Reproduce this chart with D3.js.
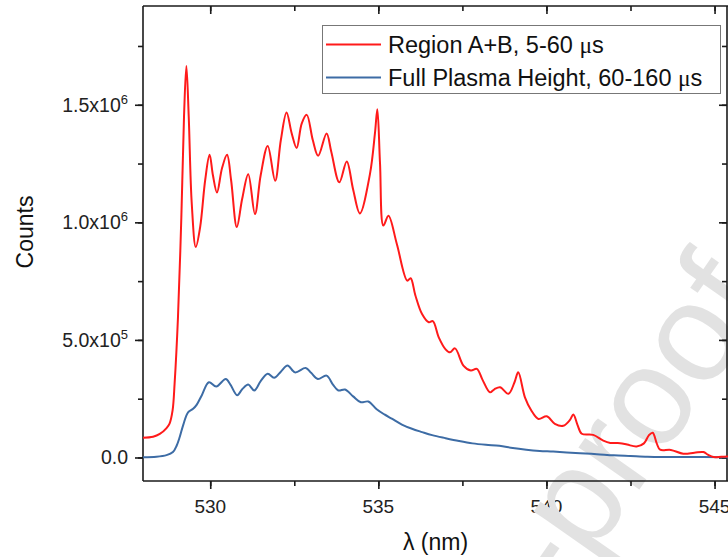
<!DOCTYPE html>
<html>
<head>
<meta charset="utf-8">
<script src="https://cdn.jsdelivr.net/npm/d3@7"></script>
<style>
  html, body { margin: 0; padding: 0; background: #fff; }
  svg { display: block; font-family: "Liberation Sans", Arial, sans-serif; }
</style>
</head>
<body>
<svg id="chart" width="728" height="557"></svg>
<script>
// Emission spectra: wavelength (nm) and counts (thousands)
const redLambda = [528.0, 528.3, 528.5, 528.7, 528.79, 528.88, 528.94, 529.04, 529.14, 529.22, 529.29, 529.36, 529.45, 529.57, 529.7, 529.85, 529.98, 530.08, 530.2, 530.35, 530.5, 530.62, 530.79, 530.95, 531.13, 531.33, 531.5, 531.71, 531.93, 532.1, 532.27, 532.42, 532.57, 532.72, 532.87, 533.05, 533.21, 533.46, 533.6, 533.84, 534.06, 534.25, 534.45, 534.75, 534.9, 534.97, 535.05, 535.15, 535.3, 535.55, 535.86, 535.96, 536.1, 536.3, 536.5, 536.62, 536.8, 537.0, 537.13, 537.28, 537.53, 537.75, 537.93, 538.1, 538.32, 538.45, 538.62, 538.87, 539.05, 539.16, 539.36, 539.55, 539.76, 540.01, 540.25, 540.5, 540.7, 540.8, 540.92, 541.05, 541.39, 541.69, 541.9, 542.19, 542.4, 542.68, 542.9, 543.05, 543.16, 543.28, 543.38, 543.7, 544.07, 544.4, 544.67, 544.8, 544.97, 545.2, 545.4];
const redCounts = [84, 88, 100, 125, 144, 200, 314, 595, 1020, 1450, 1665, 1450, 1080, 895, 980, 1180, 1287, 1200, 1127, 1230, 1287, 1180, 980, 1100, 1205, 1035, 1200, 1325, 1177, 1350, 1467, 1380, 1316, 1420, 1457, 1350, 1283, 1378, 1300, 1170, 1259, 1140, 1038, 1205, 1380, 1481, 1250, 986, 1028, 908, 752, 762, 690, 610, 575, 580, 510, 460, 447, 464, 391, 370, 377, 330, 277, 290, 299, 271, 320, 362, 256, 200, 164, 175, 143, 135, 160, 183, 140, 101, 96, 72, 62, 61, 55, 47, 60, 95, 105, 60, 33, 32, 16, 20, 23, 12, 2, 3, 4];

const blueLambda = [528.0, 528.4, 528.7, 528.89, 529.0, 529.09, 529.2, 529.34, 529.49, 529.6, 529.75, 529.96, 530.18, 530.46, 530.6, 530.8, 530.95, 531.13, 531.31, 531.5, 531.71, 531.9, 532.1, 532.3, 532.52, 532.84, 533.0, 533.2, 533.46, 533.65, 533.81, 534.01, 534.25, 534.48, 534.7, 534.95, 535.18, 535.4, 535.7, 536.0, 536.3, 536.6, 537.0, 537.4, 537.8, 538.2, 538.6, 539.0, 539.4, 539.8, 540.2, 540.6, 541.0, 541.5, 542.0, 542.5, 543.0, 543.5, 544.0, 545.4];
const blueCounts = [1, 3, 10, 23, 50, 86, 140, 192, 207, 225, 265, 320, 302, 334, 310, 265, 290, 310, 285, 325, 356, 339, 365, 391, 362, 381, 360, 334, 348, 310, 285, 289, 260, 235, 238, 205, 183, 165, 140, 122, 108, 95, 82, 70, 60, 54, 50, 40, 33, 28, 25, 21, 18, 14, 9, 6, 3, 2, 2, 1];

const seriesNames = ["Region A+B, 5-60 ", "Full Plasma Height, 60-160 "];
const seriesColors = ["#ff1a1a", "#3d6ca5"];

const xTicks = [530, 535, 540, 545];
const yTicks = [0, 5e5, 1e6, 1.5e6];
const yTickMantissa = ["0.0", "5.0", "1.0", "1.5"];
const yTickExponent = ["", "5", "6", "6"];

const svg = d3.select("#chart");
const plot = { left: 143, right: 728, top: 6, bottom: 481 };

const x = d3.scaleLinear().domain([528, 545.4]).range([plot.left, plot.right]);
const y = d3.scaleLinear().domain([-1e5, 1.92e6]).range([plot.bottom, plot.top]);

const axisColor = "#1a1a1a";
const labelColor = "#222";

// x tick labels
svg.append("g").selectAll("text").data(xTicks).join("text")
  .attr("x", d => x(d))
  .attr("y", 513)
  .attr("text-anchor", "middle")
  .attr("font-size", 19)
  .attr("fill", labelColor)
  .text(d => d);

// y tick labels with scientific notation
yTicks.forEach((v, i) => {
  const t = svg.append("text")
    .attr("x", 128)
    .attr("y", y(v) + 7)
    .attr("text-anchor", "end")
    .attr("font-size", 19.5)
    .attr("fill", labelColor);
  if (yTickExponent[i]) {
    t.append("tspan").text(yTickMantissa[i] + "x10");
    t.append("tspan").attr("font-size", 13).attr("dy", -8).text(yTickExponent[i]);
  } else {
    t.text(yTickMantissa[i]);
  }
});

// Axis titles
svg.append("text")
  .attr("transform", "translate(33,232) rotate(-90)")
  .attr("text-anchor", "middle")
  .attr("font-size", 23)
  .attr("fill", "#111")
  .text("Counts");

svg.append("text")
  .attr("x", (plot.left + plot.right) / 2)
  .attr("y", 550)
  .attr("text-anchor", "middle")
  .attr("font-size", 23)
  .attr("fill", "#111")
  .text("λ (nm)");

// Watermark
svg.append("text")
  .attr("transform", "translate(772,300) rotate(-55)")
  .attr("text-anchor", "end")
  .attr("font-size", 140)
  .attr("fill", "#e2e2e2")
  .text("Journal Pre-proof");

// Axes
function styleAxis(g) {
  g.selectAll("path").attr("stroke", axisColor).attr("stroke-width", 1.6);
  g.selectAll("line").attr("stroke", axisColor).attr("stroke-width", 1.6);
}

const xMinor = d3.range(527.5, 546, 2.5).filter(v => v > 528 && v < 545.4);
const yMinor = d3.range(-2.5e5, 2e6, 2.5e5).filter(v => v > -1e5 && v < 1.92e6);

// bottom axis
const gb = svg.append("g").attr("transform", `translate(0,${plot.bottom})`);
gb.call(d3.axisBottom(x).tickValues(xMinor).tickSize(5).tickFormat(""));
gb.append("g").call(d3.axisBottom(x).tickValues(xTicks).tickSize(8).tickFormat(""))
  .call(g => g.select(".domain").remove());
styleAxis(gb);
gb.select(".domain").attr("d", `M${plot.left},0H${plot.right}`);

// top axis (ticks inward)
const gt = svg.append("g").attr("transform", `translate(0,${plot.top})`);
gt.call(d3.axisTop(x).tickValues(xMinor).tickSize(-5).tickFormat(""));
gt.append("g").call(d3.axisTop(x).tickValues(xTicks).tickSize(-8).tickFormat(""))
  .call(g => g.select(".domain").remove());
styleAxis(gt);
gt.select(".domain").attr("d", `M${plot.left},0H${plot.right}`);

// left axis
const gl = svg.append("g").attr("transform", `translate(${plot.left},0)`);
gl.call(d3.axisLeft(y).tickValues(yMinor).tickSize(5).tickFormat(""));
gl.append("g").call(d3.axisLeft(y).tickValues(yTicks).tickSize(8).tickFormat(""))
  .call(g => g.select(".domain").remove());
styleAxis(gl);
gl.select(".domain").attr("d", `M0,${plot.top}V${plot.bottom}`);

// right axis (ticks inward)
const gr = svg.append("g").attr("transform", `translate(${plot.right - 1},0)`);
gr.call(d3.axisRight(y).tickValues(yMinor).tickSize(-5).tickFormat(""));
gr.append("g").call(d3.axisRight(y).tickValues(yTicks).tickSize(-8).tickFormat(""))
  .call(g => g.select(".domain").remove());
styleAxis(gr);
gr.select(".domain").attr("d", `M0,${plot.top}V${plot.bottom}`);

// Curves
svg.append("clipPath").attr("id", "plotclip")
  .append("rect").attr("x", plot.left).attr("y", plot.top)
  .attr("width", plot.right - plot.left).attr("height", plot.bottom - plot.top);

const line = d3.line()
  .x(d => x(d[0]))
  .y(d => y(d[1] * 1000))
  .curve(d3.curveCatmullRom.alpha(0.5));

const blueData = blueLambda.map((l, i) => [l, blueCounts[i]]);
const redData = redLambda.map((l, i) => [l, redCounts[i]]);

const curves = svg.append("g").attr("clip-path", "url(#plotclip)");
curves.append("path").datum(blueData)
  .attr("d", line).attr("fill", "none")
  .attr("stroke", seriesColors[1]).attr("stroke-width", 2);
curves.append("path").datum(redData)
  .attr("d", line).attr("fill", "none")
  .attr("stroke", seriesColors[0]).attr("stroke-width", 2);

// Legend
const legend = svg.append("g");
legend.append("rect")
  .attr("x", 322.5).attr("y", 25.5)
  .attr("width", 398).attr("height", 68)
  .attr("fill", "#fff").attr("stroke", "#777").attr("stroke-width", 1);
seriesNames.forEach((name, i) => {
  const ly = 44.5 + i * 33;
  legend.append("line")
    .attr("x1", 326).attr("x2", 381).attr("y1", ly).attr("y2", ly)
    .attr("stroke", seriesColors[i]).attr("stroke-width", 2);
  const t = legend.append("text")
    .attr("x", 388).attr("y", ly + 8)
    .attr("font-size", 23.5).attr("fill", "#111");
  t.append("tspan").text(name);
  t.append("tspan").attr("font-family", "Liberation Serif, serif").text("μ");
  t.append("tspan").text("s");
});
</script>
</body>
</html>
